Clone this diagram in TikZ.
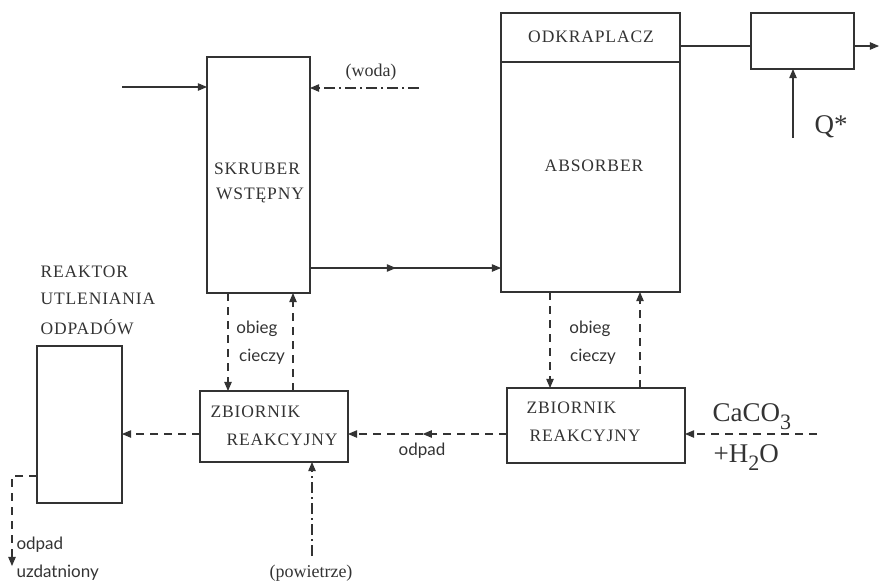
\documentclass[tikz,border=0pt]{standalone}
\usepackage{fontspec}
\setmainfont{Liberation Serif}
\newfontfamily\kapital[LetterSpace=5]{Liberation Serif}
\newfontfamily\opisfont{Lato}
\usetikzlibrary{arrows}
\usetikzlibrary{decorations.markings}
\newcommand{\indeks}[1]{\raisebox{-0.7ex}{\fontsize{22}{22}\selectfont #1}}

\begin{document}
\begin{tikzpicture}[line cap=butt,line join=miter,>=triangle 45,x=1pt,y=-1pt,
  color=black!80,line width=1.1pt,
  blok/.style={draw,inner sep=0pt,outer sep=0pt},
  napis/.style={font=\kapital\fontsize{17.5}{20}\selectfont,inner sep=0pt},
  opis/.style={font=\opisfont\fontsize{17}{20}\selectfont,inner sep=0pt},
  wzor/.style={font=\fontsize{27}{30}\selectfont,inner sep=0pt},
  nawias/.style={font=\fontsize{18}{21}\selectfont,inner sep=0pt},
  przerywana/.style={dash pattern=on 8pt off 6pt},
  kropka/.style={dash pattern=on 11pt off 4pt on 2pt off 4pt},
  strzalka/.style={postaction={decorate},decoration={markings,mark=at position #1 with {\arrow{>}}}}]
\useasboundingbox (0,0) rectangle (884,582);

%bloki
\node[blok,minimum width=103,minimum height=236] (skruber) at (258.5,175) {};
\node[blok,minimum width=179,minimum height=279] (absorber) at (590.5,152.5) {};
\node[blok,minimum width=103,minimum height=56] (chlodnica) at (802.5,41) {};
\node[blok,minimum width=85,minimum height=157] (reaktor) at (79.5,424.5) {};
\node[blok,minimum width=148,minimum height=71] (zbiornikA) at (274,426.5) {};
\node[blok,minimum width=178,minimum height=75] (zbiornikB) at (596,425.5) {};
\draw (absorber.west |- 0,62) -- (absorber.east |- 0,62);

%napisy w blokach
\node[napis] (odkr) at (591,37) {ODKRAPLACZ};
\node[napis] (abs) at (594,166) {ABSORBER};
\node[napis] (skr1) at (257,169) {SKRUBER};
\node[napis] (skr2) at (260,195) {WSTĘPNY};
\node[napis,anchor=west] (zbA1) at (210,412) {ZBIORNIK};
\node[napis,anchor=west] (zbA2) at (226,440) {REAKCYJNY};
\node[napis,anchor=west] (zbB1) at (526,408) {ZBIORNIK};
\node[napis,anchor=west] (zbB2) at (529,436) {REAKCYJNY};
\node[napis,anchor=west] (reak1) at (40,272) {REAKTOR};
\node[napis,anchor=west] (reak2) at (40,299) {UTLENIANIA};
\node[napis,anchor=west] (reak3) at (40,327) {ODPADÓW};

%wlot gazu
\coordinate (wlot) at (122,87);
\draw[->] (wlot) -- (skruber.west |- wlot);
\coordinate (wodaP) at (419,88);
\draw[->,kropka] (wodaP) -- (skruber.east |- wodaP);
\node[nawias] (woda) at (371,72) {(woda)};

%gaz ze skrubera
\draw[->,strzalka=0.45] (skruber.east |- 0,268) -- (absorber.west |- 0,268);
\draw (absorber.east |- 0,46) -- (chlodnica.west |- 0,46);
\coordinate (wylot) at (879,46);
\draw[->] (chlodnica.east |- wylot) -- (wylot);
\coordinate (qP) at (793,138);
\draw[->] (qP) -- (chlodnica.south -| qP);
\node[wzor] (q) at (831,127) {Q*};

%obieg cieczy
\draw[->,przerywana] (skruber.south -| 228,0) -- (zbiornikA.north -| 228,0);
\draw[->,przerywana] (zbiornikA.north -| 293,0) -- (skruber.south -| 293,0);
\node[opis] (ob1) at (257,329) {obieg};
\node[opis] (ci1) at (262,357) {cieczy};
\draw[->,przerywana] (absorber.south -| 550,0) -- (zbiornikB.north -| 550,0);
\draw[->,przerywana] (zbiornikB.north -| 640,0) -- (absorber.south -| 640,0);
\node[opis] (ob2) at (590,329) {obieg};
\node[opis] (ci2) at (593,357) {cieczy};

%odpad
\draw[->,przerywana,strzalka=0.53] (zbiornikB.west |- 0,434) -- (zbiornikA.east |- 0,434);
\node[opis] (odp) at (422,451) {odpad};
\draw[->,przerywana] (zbiornikA.west |- 0,434) -- (reaktor.east |- 0,434);
\coordinate (caco) at (817,434);
\draw[->,przerywana] (caco) -- (zbiornikB.east |- caco);
\node[wzor,anchor=base west] (caco3) at (712,421) {CaCO\indeks{3}};
\node[wzor,anchor=base west] (h2o) at (713,462) {+H\indeks{2}O};

%powietrze
\coordinate (powP) at (312,556);
\draw[->,kropka] (powP) -- (zbiornikA.south -| powP);
\node[nawias] (pow) at (311,573) {(powietrze)};

%odpad uzdatniony
\coordinate (zakret) at (12,476);
\coordinate (koniec) at (12,566);
\draw[->,przerywana] (reaktor.west |- zakret) -- (zakret) -- (koniec);
\node[opis,anchor=west] (odp1) at (16,545) {odpad};
\node[opis,anchor=west] (odp2) at (16,573) {uzdatniony};
\end{tikzpicture}
\end{document}
